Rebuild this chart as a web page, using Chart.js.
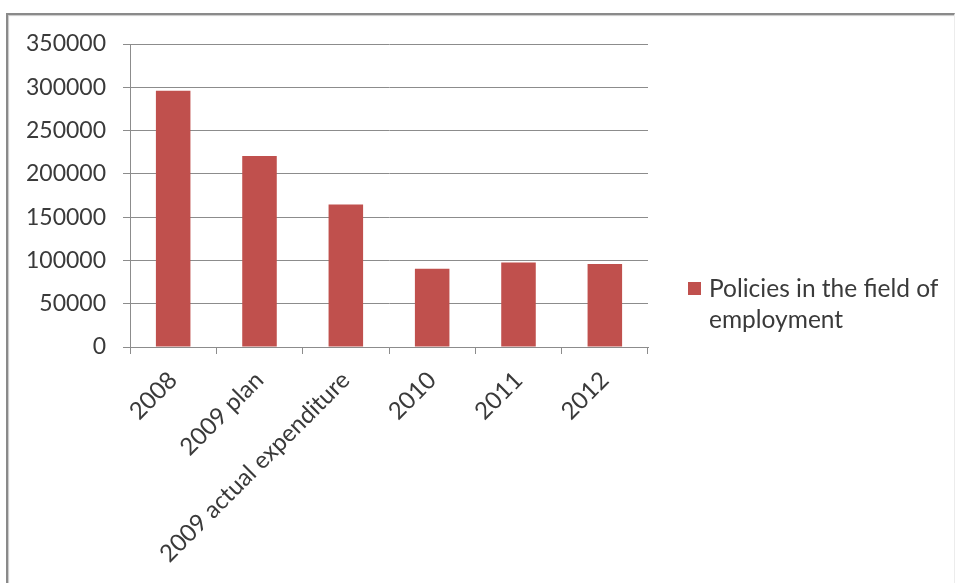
<!DOCTYPE html>
<html>
<head>
<meta charset="utf-8">
<script src="https://cdn.jsdelivr.net/npm/chart.js@4.4.1/dist/chart.umd.min.js"></script>
<style>
    html, body { margin: 0; padding: 0; background: #fff; }
    #wrap { position: relative; width: 955px; height: 583px; overflow: hidden; }
    #frame {
        position: absolute; left: 6px; top: 13px; width: 946px; height: 600px;
        border-top: 2px solid #8a8a8a; border-left: 2px solid #8a8a8a; border-right: 1px solid #ececec;
        box-shadow: inset 1px 1px 1px #c8c8c8;
    }
    #grafico { position: absolute; left: 0; top: 0; }
    #legenda {
        position: absolute; left: 688px; top: 272px; width: 265px;
        font-family: Lato, "Open Sans", sans-serif; font-size: 24.5px; line-height: 31px; color: #3a3a3a;
    }
    #legenda .caixa {
        position: absolute; left: 0; top: 10px; width: 13px; height: 13px; background: #C0504D;
    }
    #legenda .texto { margin-left: 21px; }
</style>
</head>
<body>
<div id="wrap">
    <div id="frame"></div>
    <canvas id="grafico" width="955" height="583"></canvas>
    <div id="legenda"><span class="caixa"></span><div class="texto" id="legenda-texto"></div></div>
</div>
<script>
// Dados
const categorias = ['2008', '2009 plan', '2009 actual expenditure', '2010', '2011', '2012'];
const valores = [296000, 220500, 164500, 90500, 97700, 96000];
const nomeSerie = 'Policies in the field of employment';

const corBarra = '#C0504D';
const corGrade = '#8c8c8c';
const corTexto = '#3a3a3a';

document.getElementById('legenda-texto').innerText = 'Policies in the field of\nemployment';

const ctx = document.getElementById('grafico').getContext('2d');
const meuGrafico = new Chart(ctx, {
    type: 'bar',
    data: {
        labels: categorias,
        datasets: [{
            label: nomeSerie,
            data: valores,
            backgroundColor: corBarra,
            borderWidth: 0,
            barPercentage: 0.4,
            categoryPercentage: 1
        }]
    },
    options: {
        responsive: false,
        animation: false,
        layout: { padding: { top: 44, right: 307, left: 0, bottom: 0 } },
        scales: {
            y: {
                min: 0, max: 350000,
                ticks: {
                    stepSize: 50000, color: corTexto, font: { family: 'Lato', size: 23 }, padding: 17,
                    callback: (valor) => String(valor)
                },
                grid: { color: corGrade, tickLength: 7, lineWidth: 1 },
                border: { color: corGrade },
                afterFit: (escala) => { escala.width = 130; }
            },
            x: {
                ticks: { color: corTexto, font: { family: 'Lato', size: 24 }, minRotation: 45, maxRotation: 45, padding: 12 },
                grid: { color: corGrade, drawOnChartArea: false, tickLength: 7, offset: true },
                border: { color: corGrade },
                afterFit: (escala) => { escala.height = 583 - 347; }
            }
        },
        plugins: { legend: { display: false }, tooltip: { enabled: false } }
    }
});
</script>
</body>
</html>
